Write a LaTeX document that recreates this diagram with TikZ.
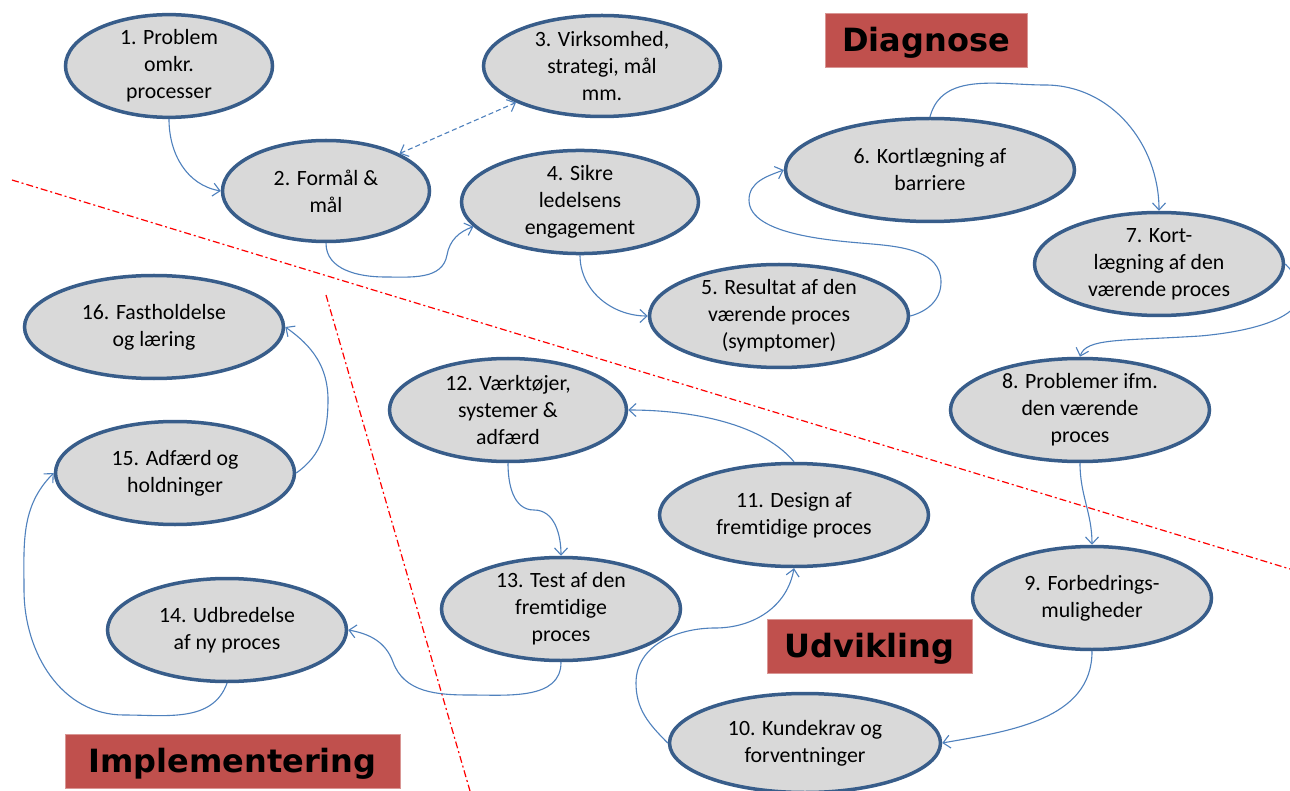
\documentclass[tikz,border=0pt]{standalone}
\usepackage{fontspec}
\setmainfont{Carlito}[Ligatures=NoCommon]
\newfontfamily\titlefont{DejaVu Sans}
\usetikzlibrary{shapes.geometric,arrows.meta}
\definecolor{ellblue}{HTML}{385D8A}
\definecolor{ellfill}{HTML}{D9D9D9}
\definecolor{connblue}{HTML}{4F81BD}
\definecolor{titlered}{HTML}{C0504D}
\definecolor{titleborder}{HTML}{D99694}
\definecolor{redline}{HTML}{FF0000}
\begin{document}
\begin{tikzpicture}[x=1pt,y=1pt,
  >={Straight Barb[length=7pt,width=13pt]},
  ell/.style={ellipse, draw=ellblue, fill=ellfill, line width=3.5pt, inner sep=0pt,
    align=center, font=\fontsize{21.8}{27}\selectfont},
  ttl/.style={rectangle, fill=titlered, draw=titleborder, line width=0.8pt, inner sep=0pt,
    text height=23pt, text depth=0pt, minimum height=54pt,
    font=\titlefont\bfseries\fontsize{32}{36}\selectfont},
  conn/.style={draw=connblue, line width=1.1pt, ->},
  divider/.style={draw=redline, line width=1.2pt, dash pattern=on 7pt off 3pt on 2pt off 3pt}]
\useasboundingbox (0,0) rectangle (1290,-791);
\fill[white] (0,0) rectangle (1290,-791);

% dividers
\coordinate (dA1) at (12,-180);
\coordinate (dA2) at (1290,-569);
\coordinate (dB1) at (326,-295);
\coordinate (dB2) at (470,-791);
\path[divider] (dA1) -- (dA2);
\path[divider] (dB1) -- (dB2);

% titles
\node[ttl, minimum width=202pt] (tD) at (926,-40) {Diagnose};
\node[ttl, minimum width=205pt] (tU) at (869.5,-646) {Udvikling};
\node[ttl, minimum width=335pt] (tI) at (232.5,-761) {Implementering};

% nodes
\node[ell, minimum width=207pt, minimum height=101pt] (n1) at (169,-66) {1. Problem\\omkr.\\processer};
\node[ell, minimum width=207pt, minimum height=101pt] (n2) at (326,-191) {2. Formål \&\\mål};
\node[ell, minimum width=237pt, minimum height=101pt] (n3) at (602,-66) {3. Virksomhed,\\strategi, mål\\mm.};
\node[ell, minimum width=237pt, minimum height=103pt] (n4) at (580,-202) {4. Sikre\\ledelsens\\engagement};
\node[ell, minimum width=259pt, minimum height=103pt] (n5) at (779,-316) {5. Resultat af den\\værende proces\\(symptomer)};
\node[ell, minimum width=289pt, minimum height=103pt] (n6) at (930,-170) {6. Kortlægning af\\barriere};
\node[ell, minimum width=249pt, minimum height=103pt] (n7) at (1159,-264) {7. Kort-\\lægning af den\\værende proces};
\node[ell, minimum width=259pt, minimum height=103pt] (n8) at (1080,-410) {8. Problemer ifm.\\den værende\\proces};
\node[ell, minimum width=239pt, minimum height=103pt] (n9) at (1092,-598) {9. Forbedrings-\\muligheder};
\node[ell, minimum width=271pt, minimum height=99pt] (n10) at (805,-743) {10. Kundekrav og\\forventninger};
\node[ell, minimum width=269pt, minimum height=103pt] (n11) at (794,-515) {11. Design af\\fremtidige proces};
\node[ell, minimum width=237pt, minimum height=103pt] (n12) at (508,-410) {12. Værktøjer,\\systemer \&\\adfærd};
\node[ell, minimum width=239pt, minimum height=103pt] (n13) at (561,-609) {13. Test af den\\fremtidige\\proces};
\node[ell, minimum width=239pt, minimum height=103pt] (n14) at (227,-630) {14. Udbredelse\\af ny proces};
\node[ell, minimum width=239pt, minimum height=103pt] (n15) at (175,-473) {15. Adfærd og\\holdninger};
\node[ell, minimum width=259pt, minimum height=103pt] (n16) at (154,-327) {16. Fastholdelse\\og læring};

% connectors
\path[conn] (n1.south) to[out=-90,in=170] (n2.west);
\path[conn, <->, dash pattern=on 5pt off 3pt] (n2.27) -- (n3.203);
\path[conn] (n2.south) to[out=-90,in=180] (385,-277) to[out=0,in=-100] (447,-255) to[out=80,in=200] (n4.193);
\path[conn] (n4.south) to[out=-90,in=180] (n5.west);
\path[conn] (n5.east) to[out=15,in=-90] (941,-282) to[out=90,in=-5] (872,-244)
  to[out=175,in=-90,looseness=0.7] (749,-200) to[out=90,in=200] (n6.west);
\path[conn] (n6.north) to[out=75,in=180] (1045,-85) to[out=0,in=90] (n7.north);
\path[conn] (n7.east) to[out=-45,in=5,looseness=1.5] (1200,-336)
  .. controls (1120,-341) and (1086,-338) .. (n8.north);
\path[conn] (n8.south) to[out=-90,in=90] (n9.north);
\path[conn] (n9.south) to[out=-90,in=10] (n10.east);
\path[conn] (n10.west) to[out=135,in=-90] (636,-683) to[out=90,in=180] (715,-628) to[out=0,in=-100] (n11.south);
\path[conn] (n11.north) to[out=130,in=0,looseness=0.8] (n12.east);
\path[conn] (n12.south) to[out=-90,in=180] (534,-510) to[out=0,in=90] (n13.north);
\path[conn] (n13.south) to[out=-90,in=0] (470,-695) to[out=180,in=-70] (393,-662) to[out=110,in=-10] (n14.east);
\path[conn] (n14.south) to[out=-110,in=0] (124,-715) to[out=180,in=-90] (24,-590) to[out=90,in=225] (n15.west);
\path[conn] (n15.east) to[out=35,in=-90] (328,-400) to[out=90,in=-35] (n16.east);
\end{tikzpicture}
\end{document}
